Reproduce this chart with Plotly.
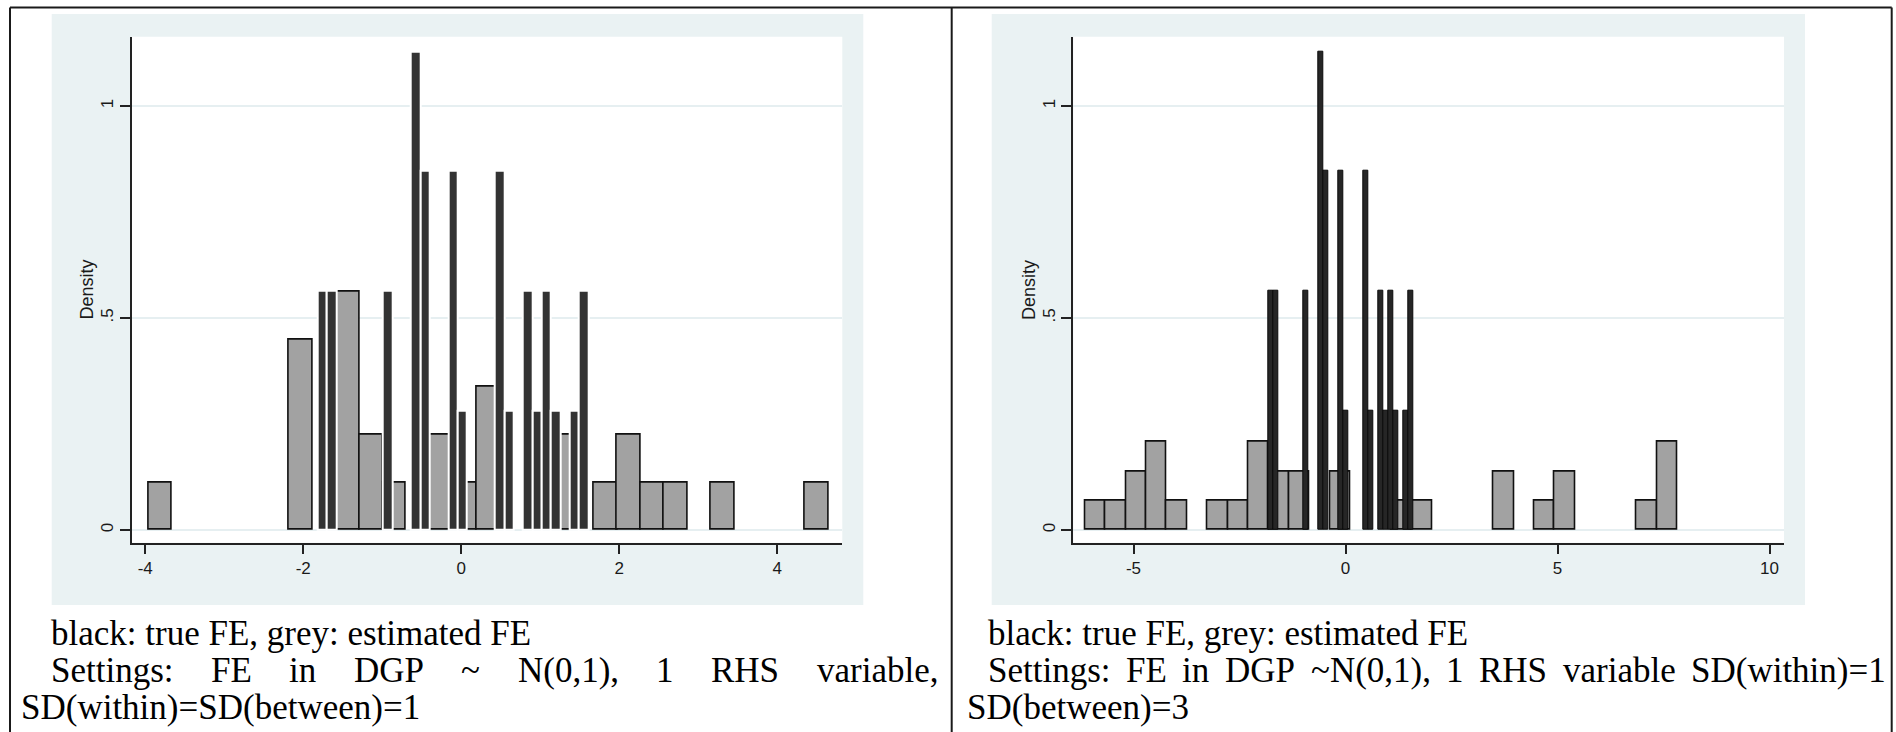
import plotly.graph_objects as go

W, H = 1896, 732

# ---------------- data ----------------
# true fixed effects (black histogram) - identical in both panels
true_fe_x = [-1.758, -1.640, -0.931, -0.577, -0.459, -0.105, 0.014, 0.486,
             0.604, 0.840, 0.958, 1.076, 1.195, 1.431, 1.549]
true_fe_density = [0.565, 0.565, 0.565, 1.129, 0.847, 0.847, 0.282, 0.847,
                   0.282, 0.565, 0.282, 0.565, 0.282, 0.282, 0.565]
true_fe_binwidth = 0.1181

# estimated fixed effects (grey histogram), left panel
est_left_x = [-3.813, -2.032, -1.438, -1.141, -0.845, -0.251, 0.046, 0.343,
              0.936, 1.233, 1.827, 2.123, 2.420, 2.717, 3.311, 4.498]
est_left_density = [0.112, 0.449, 0.562, 0.225, 0.112, 0.225, 0.112, 0.337,
                    0.225, 0.225, 0.112, 0.225, 0.112, 0.112, 0.112, 0.112]
est_left_binwidth = 0.2968

# estimated fixed effects (grey histogram), right panel
est_right_x = [-5.903, -5.421, -4.940, -4.458, -3.976, -3.013, -2.531, -2.050,
               -1.568, -1.086, -0.123, 1.322, 1.804, 3.731, 4.694, 5.176,
               7.103, 7.584]
est_right_density = [0.069, 0.069, 0.138, 0.208, 0.069, 0.069, 0.069, 0.208,
                     0.138, 0.138, 0.138, 0.069, 0.069, 0.138, 0.069, 0.138,
                     0.069, 0.208]
est_right_binwidth = 0.4817

left_xticks = [-4, -2, 0, 2, 4]
left_xticklabels = ["-4", "-2", "0", "2", "4"]
right_xticks = [-5, 0, 5, 10]
right_xticklabels = ["-5", "0", "5", "10"]
y_ticks = [0, 0.5, 1]
y_ticklabels = ["0", ".5", "1"]

caption_line1 = "black: true FE, grey: estimated FE"
left_line2_words = ["Settings:", "FE", "in", "DGP", "~", "N(0,1),", "1", "RHS", "variable,"]
left_line3 = "SD(within)=SD(between)=1"
right_line2_words = ["Settings:", "FE", "in", "DGP", "~N(0,1),", "1", "RHS", "variable", "SD(within)=1"]
right_line3 = "SD(between)=3"

# ---------------- geometry helpers ----------------
def fx(p):
    return p / W

def fy(p):
    return 1 - p / H

L_PLOT = (131.7, 842.3)
R_PLOT = (1073.3, 1784.0)
PLOT_TOP, PLOT_BOTTOM = 36.7, 542.7
L_BG = (51.7, 863.3)
R_BG = (991.7, 1805.0)
BG_TOP, BG_BOTTOM = 14.0, 605.0

BG_COLOR = "#EAF2F3"
GRID_COLOR = "#E6EFF1"
AXIS_COLOR = "#222222"
GREY_FILL = "#A2A2A2"
BLACK_FILL = "#333333"

fig = go.Figure()

# grey (estimated) first, black (true) on top
fig.add_trace(go.Bar(x=est_left_x, y=est_left_density,
                     width=[est_left_binwidth] * len(est_left_x),
                     marker=dict(color=GREY_FILL, line=dict(color="#111111", width=1.6)),
                     xaxis="x", yaxis="y", showlegend=False, hoverinfo="skip"))
fig.add_trace(go.Bar(x=true_fe_x, y=true_fe_density,
                     width=[true_fe_binwidth] * len(true_fe_x),
                     marker=dict(color=BLACK_FILL, line=dict(color="#FFFFFF", width=2)),
                     xaxis="x", yaxis="y", showlegend=False, hoverinfo="skip"))
fig.add_trace(go.Bar(x=est_right_x, y=est_right_density,
                     width=[est_right_binwidth] * len(est_right_x),
                     marker=dict(color=GREY_FILL, line=dict(color="#111111", width=1.6)),
                     xaxis="x2", yaxis="y2", showlegend=False, hoverinfo="skip"))
fig.add_trace(go.Bar(x=true_fe_x, y=true_fe_density,
                     width=[true_fe_binwidth] * len(true_fe_x),
                     marker=dict(color="#262626", line=dict(color="#0A0A0A", width=1)),
                     xaxis="x2", yaxis="y2", showlegend=False, hoverinfo="skip"))

tick_font = dict(family="Liberation Sans, Arial, sans-serif", size=17, color="#1A1A1A")

common_x = dict(showline=True, linecolor=AXIS_COLOR, linewidth=1.8, ticks="outside",
                ticklen=9, tickwidth=1.5, tickcolor=AXIS_COLOR, showgrid=False,
                zeroline=False, tickfont=tick_font, mirror=False)
common_y = dict(showline=True, linecolor=AXIS_COLOR, linewidth=1.8, ticks="outside",
                ticklen=10, tickwidth=1.5, tickcolor=AXIS_COLOR, showgrid=True,
                gridcolor=GRID_COLOR, gridwidth=1.6, zeroline=False, tickfont=tick_font,
                tickvals=y_ticks, ticktext=y_ticklabels, tickangle=-90,
                range=[(530 - PLOT_BOTTOM) / 424, (530 - PLOT_TOP) / 424])

x_scale_left = 79.0
x0_left = 461.2
x_scale_right = 42.4
x0_right = 1345.5

fig.update_layout(
    width=W, height=H, margin=dict(l=0, r=0, t=0, b=0),
    paper_bgcolor="white", plot_bgcolor="rgba(0,0,0,0)",
    barmode="overlay", bargap=0,
    xaxis=dict(domain=[fx(L_PLOT[0]), fx(L_PLOT[1])], anchor="y",
               range=[(L_PLOT[0] - x0_left) / x_scale_left, (L_PLOT[1] - x0_left) / x_scale_left],
               tickvals=left_xticks, ticktext=left_xticklabels, **common_x),
    yaxis=dict(domain=[fy(PLOT_BOTTOM), fy(PLOT_TOP)], anchor="x", **common_y),
    xaxis2=dict(domain=[fx(R_PLOT[0]), fx(R_PLOT[1])], anchor="y2",
                range=[(R_PLOT[0] - x0_right) / x_scale_right, (R_PLOT[1] - x0_right) / x_scale_right],
                tickvals=right_xticks, ticktext=right_xticklabels, **common_x),
    yaxis2=dict(domain=[fy(PLOT_BOTTOM), fy(PLOT_TOP)], anchor="x2", **common_y),
)

shapes = []
# graph region backgrounds and white plot regions
for bg, pl in ((L_BG, L_PLOT), (R_BG, R_PLOT)):
    shapes.append(dict(type="rect", xref="paper", yref="paper", layer="below",
                       x0=fx(bg[0]), x1=fx(bg[1]), y0=fy(BG_BOTTOM), y1=fy(BG_TOP),
                       fillcolor=BG_COLOR, line=dict(width=0)))
    shapes.append(dict(type="rect", xref="paper", yref="paper", layer="below",
                       x0=fx(pl[0]), x1=fx(pl[1]), y0=fy(PLOT_BOTTOM), y1=fy(PLOT_TOP),
                       fillcolor="white", line=dict(width=0)))
# table borders
TABLE_TOP = 7.5
for xb in (10.0, 951.7, 1891.7):
    shapes.append(dict(type="line", xref="paper", yref="paper", layer="above",
                       x0=fx(xb), x1=fx(xb), y0=fy(TABLE_TOP), y1=0,
                       line=dict(color="#1A1A1A", width=2)))
shapes.append(dict(type="line", xref="paper", yref="paper", layer="above",
                   x0=fx(10.0), x1=fx(1891.7), y0=fy(TABLE_TOP), y1=fy(TABLE_TOP),
                   line=dict(color="#1A1A1A", width=2)))
fig.update_layout(shapes=shapes)

# ---------------- texts ----------------
TIMES = {' ': 250, 'a': 444, 'b': 500, 'c': 444, 'd': 500, 'e': 444, 'g': 500,
         'h': 500, 'i': 278, 'k': 500, 'l': 278, 'm': 778, 'n': 500, 'r': 333,
         's': 389, 't': 278, 'u': 500, 'v': 500, 'w': 722, 'y': 500, ':': 278,
         ',': 250, '(': 333, ')': 333, '=': 564, '~': 541, '0': 500, '1': 500,
         '3': 500, 'D': 722, 'E': 611, 'F': 556, 'G': 722, 'H': 722, 'N': 722,
         'P': 556, 'R': 667, 'S': 556}
SERIF = "Liberation Serif, Times New Roman, serif"
FS = 35

def tw(s):
    return sum(TIMES.get(c, 500) for c in s) / 1000 * FS

annotations = []

def add_text(s, xpix, ypix):
    annotations.append(dict(text=s, x=fx(xpix), y=fy(ypix), xref="paper", yref="paper",
                            xanchor="left", yanchor="middle", showarrow=False,
                            borderpad=0, font=dict(family=SERIF, size=FS, color="black")))

def add_justified(words, x_start, x_end, ypix):
    natural = sum(tw(w) for w in words)
    gap = (x_end - x_start - natural) / (len(words) - 1)
    x = x_start
    for w in words:
        add_text(w, x, ypix)
        x += tw(w) + gap

LINE_Y = (633, 670, 707)
add_text(caption_line1, 50, LINE_Y[0])
add_justified(left_line2_words, 50, 937, LINE_Y[1])
add_text(left_line3, 20, LINE_Y[2])
add_text(caption_line1, 987, LINE_Y[0])
add_justified(right_line2_words, 987, 1885, LINE_Y[1])
add_text(right_line3, 966, LINE_Y[2])

# y-axis titles
for xpix in (L_PLOT[0] - 45, R_PLOT[0] - 45):
    annotations.append(dict(text="Density", x=fx(xpix), y=fy((PLOT_TOP + PLOT_BOTTOM) / 2),
                            xref="paper", yref="paper", xanchor="center", yanchor="middle",
                            textangle=-90, showarrow=False,
                            font=dict(family="Liberation Sans, Arial, sans-serif", size=18,
                                      color="#1A1A1A")))

fig.update_layout(annotations=annotations)

fig.write_html("out.html")
